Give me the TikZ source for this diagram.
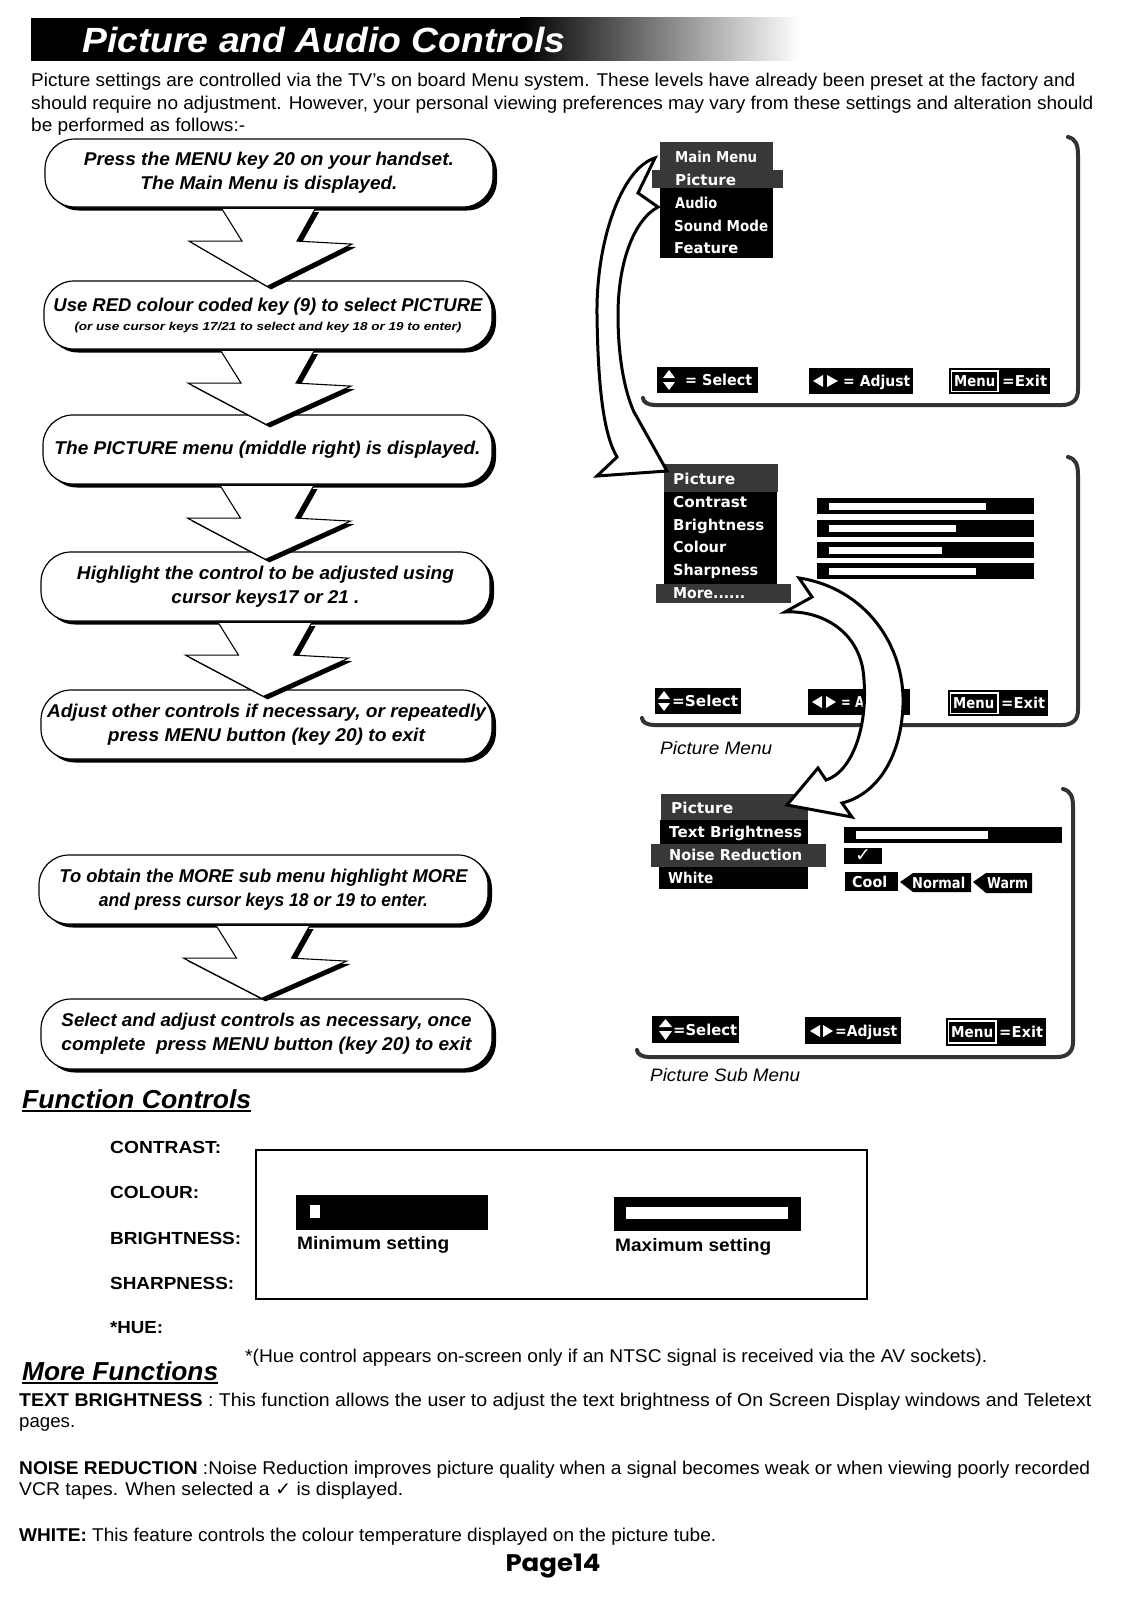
\documentclass[tikz,border=0pt]{standalone}
\usepackage{fontspec}
\setmainfont{Liberation Sans}
\newfontfamily\osdfam{DejaVu Sans}
\newfontfamily\symfam{DejaVu Sans}
\newfontfamily\pagefam{Poppins}
\usetikzlibrary{calc,shadows}
\newcommand\fitw[2]{\resizebox{#1}{\height}{#2}}
\newcommand\bodyfont{\fontsize{18.5}{22}\selectfont}
\newcommand\bubfont{\fontsize{18.5}{24}\selectfont\bfseries\itshape}
\newcommand\osdfont{\osdfam\bfseries\fontsize{15}{18}\selectfont}
\colorlet{stip}{black!78}
\newcommand\blockarr[3]{%
 \coordinate (#1t) at ($(#1.south)+(0,1.5)$);
 \coordinate (#1p) at ($(#1t |- #2.north)+(-2,#3)$);
 \fill[black, transform canvas={shift={(4pt,-3pt)}}] ($(#1t)+(-47,0)$) -- ($(#1t)+(-27,32)$) -- ($(#1t)+(-80,32)$) -- (#1p) -- ($(#1t)+(83,35)$) -- ($(#1t)+(28,32)$) -- ($(#1t)+(46,0)$) -- cycle;
 \fill[white] ($(#1t)+(-47,0)$) -- ($(#1t)+(-27,32)$) -- ($(#1t)+(-80,32)$) -- (#1p) -- ($(#1t)+(83,35)$) -- ($(#1t)+(28,32)$) -- ($(#1t)+(46,0)$) -- cycle;
 \draw[line width=1.1pt, line join=miter] ($(#1t)+(-47,0)$) -- ($(#1t)+(-27,32)$) -- ($(#1t)+(-80,32)$) -- (#1p) -- ($(#1t)+(83,35)$) -- ($(#1t)+(28,32)$) -- ($(#1t)+(46,0)$);
}
\begin{document}
\begin{tikzpicture}[x=1pt,y=-1pt,
 body/.style={inner sep=0pt, anchor=west, text height=13pt, text depth=0pt, font=\bodyfont},
 bodyb/.style={body, font=\bodyfont\bfseries},
 head/.style={inner sep=0pt, anchor=west, text height=19pt, text depth=0pt, font=\fontsize{26}{30}\selectfont\bfseries\itshape},
 bubble/.style={draw, line width=1.2pt, fill=white, rounded corners=30pt,
   drop shadow={shadow xshift=4pt, shadow yshift=-3.5pt, fill=black, opacity=1},
   align=center, inner sep=0pt, font=\bubfont},
 osd/.style={inner sep=0pt, anchor=west, text height=11pt, text depth=0pt, text=white, font=\osdfont},
 frame/.style={line width=4pt, draw=black!80, line cap=round},
 curvarr/.style={draw, line width=3pt, fill=white, line join=miter},
 lbl/.style={inner sep=0pt, anchor=west, text height=13pt, text depth=0pt, font=\fontsize{18}{22}\selectfont\itshape},
]
\useasboundingbox (0,0) rectangle (1131,1600);
\fill[white] (0,0) rectangle (1131,1600);

% ---------- title bar ----------
\fill[black] (31,18) rectangle (520,61);
\shade[left color=black, right color=white] (520,18) rectangle (800,61);
\node[inner sep=0pt, anchor=west, text height=26pt, text depth=0pt, text=white,
  font=\fontsize{35}{40}\selectfont\bfseries\itshape] (title) at (82,40) {\fitw{483pt}{Picture and Audio Controls}};

% ---------- intro ----------
\node[body] (i1) at (31,80) {\fitw{1044pt}{Picture settings are controlled via the TV’s on board Menu system. These levels have already been preset at the factory and}};
\node[body] (i2) at (31,103) {\fitw{1062pt}{should require no adjustment. However, your personal viewing preferences may vary from these settings and alteration should}};
\node[body] (i3) at (31,125) {\fitw{214pt}{be performed as follows:-}};

% ---------- flow bubbles ----------
\node[bubble, minimum width=448pt, minimum height=68pt] (b1) at (269,173)
  {\fitw{370pt}{Press the MENU key 20 on your handset.}\\\fitw{257pt}{The Main Menu is displayed.}};
\node[bubble, minimum width=448pt, minimum height=68pt] (b2) at (268,315)
  {\fitw{429pt}{Use RED colour coded key (9) to select PICTURE}\\[-5pt]{\fontsize{11.5}{14}\selectfont\fitw{387pt}{(or use cursor keys 17/21 to select and key 18 or 19 to enter)}}};
\node[bubble, minimum width=449pt, minimum height=69pt] (b3) at (267.5,449.5)
  {\fitw{426pt}{The PICTURE menu (middle right) is displayed.}};
\node[bubble, minimum width=449pt, minimum height=69pt] (b4) at (265.5,586.5)
  {\fitw{377pt}{Highlight the control to be adjusted using}\\\fitw{188pt}{cursor keys17 or 21 .}};
\node[bubble, minimum width=451pt, minimum height=69pt] (b5) at (266.5,724.5)
  {\fitw{439pt}{Adjust other controls if necessary, or repeatedly}\\\fitw{317pt}{press MENU button (key 20) to exit}};
\node[bubble, minimum width=449pt, minimum height=69pt] (b6) at (263.5,889.5)
  {\fitw{408pt}{To obtain the MORE sub menu highlight MORE}\\\fitw{329pt}{and press cursor keys 18 or 19 to enter.}};
\node[bubble, minimum width=451pt, minimum height=70pt] (b7) at (266.5,1034)
  {\fitw{410pt}{Select and adjust controls as necessary, once}\\\fitw{410pt}{complete\ \ press MENU button (key 20) to exit}};

\blockarr{b1}{b2}{6}
\blockarr{b2}{b3}{10}
\blockarr{b3}{b4}{8}
\blockarr{b4}{b5}{7}
\blockarr{b6}{b7}{0}

% ---------- screen 1 : main menu ----------
\draw[frame] (1068,137) .. controls (1076,139) and (1078,145) .. (1078,155) -- (1078,390) .. controls (1078,400) and (1072,405) .. (1062,405) -- (655,405) .. controls (648,405) and (643,402) .. (643,398);
\fill[stip] (660,142) rectangle (773,170);
\fill[stip] (652,170) rectangle (783,188);
\fill[black] (660,188) rectangle (773,258);
\node[osd] (m1) at (675,157) {\fitw{82pt}{Main Menu}};
\node[osd] (m2) at (675,180) {\fitw{61pt}{Picture}};
\node[osd] (m3) at (675,203) {\fitw{42pt}{Audio}};
\node[osd] (m4) at (674,226) {\fitw{94pt}{Sound Mode}};
\node[osd] (m5) at (674,248) {\fitw{64pt}{Feature}};
% footer 1
\fill[black] (657,367) rectangle (758,393);
\fill[white] (663,378) -- (675,378) -- (669,370) -- cycle;
\fill[white] (663,382) -- (675,382) -- (669,390) -- cycle;
\node[osd] (s1) at (685,380) {\fitw{67pt}{= Select}};
\fill[black] (809,368) rectangle (913,394);
\fill[white] (823,375) -- (823,387) -- (813,381) -- cycle;
\fill[white] (827,375) -- (827,387) -- (838,381) -- cycle;
\node[osd] (a1) at (843,381) {\fitw{67pt}{= Adjust}};
\fill[black] (949,368) rectangle (1050,394);
\draw[white, line width=1.2pt] (951.5,371) rectangle (998,391.5);
\node[osd] (e1m) at (954,381) {\fitw{41pt}{Menu}};
\node[osd] (e1) at (1002,381) {\fitw{45pt}{=Exit}};

% ---------- screen 2 : picture menu ----------
\draw[frame] (1068,457) .. controls (1076,459) and (1078,465) .. (1078,475) -- (1078,710) .. controls (1078,720) and (1072,725) .. (1062,725) -- (654,725) .. controls (647,725) and (642,722) .. (642,718);
\fill[stip] (664,464) rectangle (778,492);
\fill[black] (664,492) rectangle (777,584);
\fill[stip] (656,584) rectangle (791,603);
\node[osd] (p1) at (673,479) {\fitw{62pt}{Picture}};
\node[osd] (p2) at (673,502) {\fitw{74pt}{Contrast}};
\node[osd] (p3) at (673,525) {\fitw{91pt}{Brightness}};
\node[osd] (p4) at (673,547) {\fitw{53pt}{Colour}};
\node[osd] (p5) at (673,570) {\fitw{85pt}{Sharpness}};
\node[osd] (p6) at (673,593) {\fitw{72pt}{More......}};
\fill[black] (817,498) rectangle (1034,514); \fill[white] (829,503) rectangle (986,510);
\fill[black] (817,520) rectangle (1034,537); \fill[white] (829,525) rectangle (956,532);
\fill[black] (817,542) rectangle (1034,558); \fill[white] (829,547) rectangle (942,554);
\fill[black] (817,563) rectangle (1034,579); \fill[white] (829,568) rectangle (976,575);
% footer 2
\fill[black] (655,688) rectangle (741,714);
\fill[white] (658,699) -- (670,699) -- (664,691) -- cycle;
\fill[white] (658,703) -- (670,703) -- (664,711) -- cycle;
\node[osd] (s2) at (672,701) {\fitw{66pt}{=Select}};
\fill[black] (808,689) rectangle (910,715);
\fill[white] (822,696) -- (822,708) -- (812,702) -- cycle;
\fill[white] (826,696) -- (826,708) -- (836,702) -- cycle;
\node[osd] (a2) at (841,702) {\fitw{56pt}{= Adjust}};
\fill[black] (948,690) rectangle (1048,716);
\draw[white, line width=1.2pt] (950.5,693) rectangle (998,713.5);
\node[osd] (e2m) at (953,703) {\fitw{41pt}{Menu}};
\node[osd] (e2) at (1001,703) {\fitw{44pt}{=Exit}};
\node[lbl] (cap2) at (660,748) {\fitw{112pt}{Picture Menu}};

% ---------- screen 3 : picture sub menu ----------
\draw[frame] (1063,789) .. controls (1071,791) and (1073,797) .. (1073,807) -- (1073,1042) .. controls (1073,1052) and (1067,1057) .. (1057,1057) -- (649,1057) .. controls (642,1057) and (637,1054) .. (637,1050);
\fill[stip] (661,794) rectangle (808,820);
\fill[black] (660,820) rectangle (808,844);
\fill[stip] (651,844) rectangle (826,867);
\fill[black] (659,867) rectangle (808,889);
\node[osd] (q1) at (671,808) {\fitw{62pt}{Picture}};
\node[osd] (q2) at (669,832) {\fitw{133pt}{Text Brightness}};
\node[osd] (q3) at (669,855) {\fitw{133pt}{Noise Reduction}};
\node[osd] (q4) at (668,878) {\fitw{45pt}{White}};
\fill[black] (844,827) rectangle (1062,843); \fill[white] (856,831) rectangle (988,839);
\fill[black] (844,848) rectangle (882,864);
\node[inner sep=0pt, text=white, font=\symfam\bfseries\fontsize{19}{22}\selectfont] (chk) at (863,856) {✓};
\fill[black] (845,872) rectangle (898,891);
\node[osd] (w1) at (852,881.5) {\fitw{35pt}{Cool}};
\fill[black] (900,882) -- (913,873) -- (971,873) -- (971,892) -- (913,892) -- cycle;
\node[osd] (w2) at (912,882.5) {\fitw{53pt}{Normal}};
\fill[black] (973,882) -- (986,873) -- (1032,873) -- (1032,893) -- (986,893) -- cycle;
\node[osd] (w3) at (987,883) {\fitw{41pt}{Warm}};
% footer 3
\fill[black] (652,1016) rectangle (739,1043);
\fill[white] (659,1027) -- (672,1027) -- (665.5,1019) -- cycle;
\fill[white] (659,1031) -- (672,1031) -- (665.5,1040) -- cycle;
\node[osd] (s3) at (673,1030) {\fitw{64pt}{=Select}};
\fill[black] (805,1017) rectangle (901,1044);
\fill[white] (820,1025) -- (820,1037) -- (810,1031) -- cycle;
\fill[white] (823,1025) -- (823,1037) -- (833,1031) -- cycle;
\node[osd] (a3) at (835,1031) {\fitw{62pt}{=Adjust}};
\fill[black] (946,1018) rectangle (1046,1046);
\draw[white, line width=1.2pt] (948.5,1021) rectangle (996,1043);
\node[osd] (e3m) at (951,1032) {\fitw{42pt}{Menu}};
\node[osd] (e3) at (999,1032) {\fitw{44pt}{=Exit}};
\node[lbl] (cap3) at (650,1075) {\fitw{150pt}{Picture Sub Menu}};

% ---------- curved arrows ----------
\draw[curvarr] (655,158) .. controls (622,168) and (596,240) .. (597,315) .. controls (598,390) and (604,435) .. (617,457) -- (597,476) -- (667,471) -- (634,412) .. controls (624,390) and (618,355) .. (618,315) .. controls (618,262) and (634,220) .. (658,207) -- (638,193) -- cycle;
\draw[curvarr] (799,578) .. controls (865,588) and (905,645) .. (903,705) .. controls (901,760) and (875,795) .. (842,803) -- (852,817) -- (787,805) -- (818,768) -- (826,780) .. controls (852,772) and (870,725) .. (863,670) .. controls (856,628) and (818,610) .. (785,612) -- (812,597) -- cycle;

% ---------- function controls ----------
\node[head] (fc) at (22,1099) {\fitw{229pt}{Function Controls}};
\draw[line width=1.5pt] (22,1111) -- (251,1111);
\node[bodyb, font=\fontsize{17.5}{21}\selectfont\bfseries] (c1) at (110,1147) {\fitw{111pt}{CONTRAST:}};
\node[bodyb, font=\fontsize{17.5}{21}\selectfont\bfseries] (c2) at (110,1192) {\fitw{89pt}{COLOUR:}};
\node[bodyb, font=\fontsize{17.5}{21}\selectfont\bfseries] (c3) at (110,1238) {\fitw{131pt}{BRIGHTNESS:}};
\node[bodyb, font=\fontsize{17.5}{21}\selectfont\bfseries] (c4) at (110,1283) {\fitw{124pt}{SHARPNESS:}};
\node[bodyb, font=\fontsize{17.5}{21}\selectfont\bfseries] (c5) at (110,1327) {\fitw{53pt}{*HUE:}};
\draw[line width=1.3pt] (256,1150) rectangle (867,1299);
\fill[black] (296,1195) rectangle (488,1230);
\fill[white] (310,1205) rectangle (320,1218);
\node[bodyb, font=\fontsize{18}{21}\selectfont\bfseries] (mins) at (297,1243) {\fitw{152pt}{Minimum setting}};
\fill[black] (614,1197) rectangle (801,1231);
\fill[white] (626,1207) rectangle (788,1219);
\node[bodyb, font=\fontsize{18}{21}\selectfont\bfseries] (maxs) at (615,1245) {\fitw{156pt}{Maximum setting}};
\node[body] (hue) at (245,1356) {\fitw{742pt}{*(Hue control appears on-screen only if an NTSC signal is received via the AV sockets).}};

% ---------- more functions ----------
\node[head] (mf) at (22,1371) {\fitw{196pt}{More Functions}};
\draw[line width=1.5pt] (22,1383) -- (218,1383);
\node[body] (t1) at (19,1400) {\fitw{1072pt}{\textbf{TEXT BRIGHTNESS} : This function allows the user to adjust the text brightness of On Screen Display windows and Teletext}};
\node[body] (t2) at (19,1421) {\fitw{56pt}{pages.}};
\node[body] (n1) at (19,1468) {\fitw{1071pt}{\textbf{NOISE REDUCTION} :Noise Reduction improves picture quality when a signal becomes weak or when viewing poorly recorded}};
\node[body] (n2) at (19,1489) {\fitw{384pt}{VCR tapes. When selected a {\symfam ✓} is displayed.}};
\node[body] (wh) at (19,1535) {\fitw{697pt}{\textbf{WHITE:} This feature controls the colour temperature displayed on the picture tube.}};
\node[inner sep=0pt, text height=17pt, text depth=0pt, font=\pagefam\bfseries\fontsize{24}{28}\selectfont] (pg) at (553,1563) {\fitw{95pt}{Page14}};
\end{tikzpicture}
\end{document}
